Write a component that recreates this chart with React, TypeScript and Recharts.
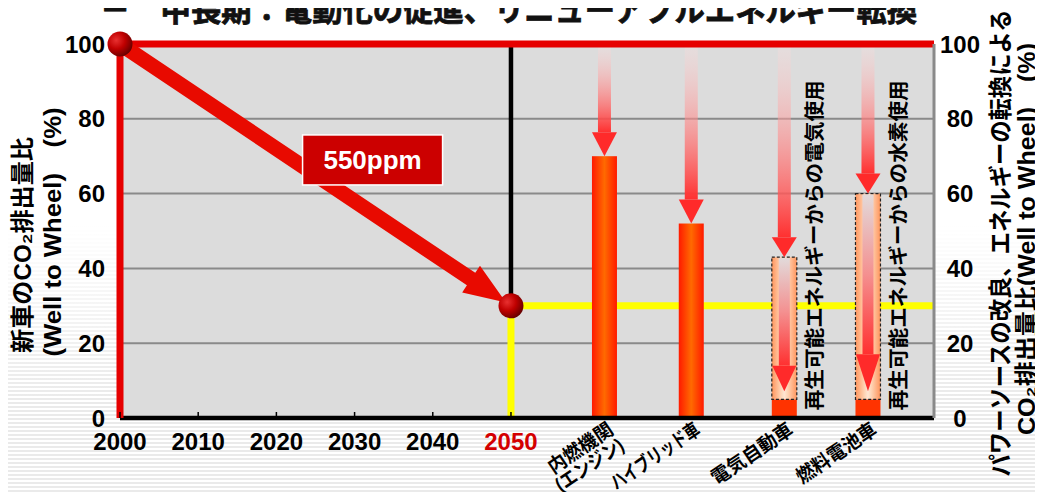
import {
  ComposedChart,
  CartesianGrid,
  XAxis,
  YAxis,
  Bar,
  Area,
  Scatter,
  ReferenceLine,
  ReferenceDot
} from 'recharts';

const FONT = "'Liberation Sans', 'Noto Sans CJK JP', sans-serif";

// Time axis (left part of the chart)
const years = [2000, 2010, 2020, 2030, 2040, 2050];
const highlightYear = 2050;
const axisEnd = 2104.1;

// Reduction path of new-car CO2, 2000 -> 2050
const pathYears = [2000, 2050];
const pathValues = [100, 30];
const pathLabel = '550ppm';
const pathLabelYear = 2032.3;
const pathLabelValue = 69;

// Power sources (right part of the chart)
const vehicles = ['内燃機関\n(エンジン)', 'ハイブリッド車', '電気自動車', '燃料電池車'];
const vehicleSlots = [2062, 2073.1, 2085, 2095.7];
const vehicleCO2 = [70, 52, 5, 5];
const renewableCO2: (number | null)[] = [null, null, 43, 60];
const renewableNotes = ['', '', '再生可能エネルギーからの電気使用', '再生可能エネルギーからの水素使用'];

const yTicks = [0, 20, 40, 60, 80, 100];

const title = '－　中長期：電動化の促進、リニューアブルエネルギー転換';
const leftTitle = ['新車のCO₂排出量比', '(Well to Wheel)　(%)'];
const rightTitle = ['パワーソースの改良、エネルギーの転換による', 'CO₂排出量比(Well to Wheel)　(%)'];

// rendered length (px) of each slanted category label line
const labelLengths = [[74, 78], [103], [94], [92]];

// stacked segments: solid bar, renewable box, drop arrow up to 100
const vehicleRows = vehicles.map((name, i) => {
  const co2 = vehicleCO2[i];
  const renew = renewableCO2[i];
  const top = renew ?? co2;
  return {
    x: vehicleSlots[i],
    name,
    note: renewableNotes[i],
    renewable: renew != null,
    co2,
    renew: renew == null ? 0 : renew - co2,
    drop: 100 - top
  };
});

const pathPoints = pathYears.map((x, i) => ({ x, v: pathValues[i] }));
// 2050 level carried across the power-source section
const targetLine = [highlightYear, axisEnd].map(x => ({ x, t: pathValues[1] }));

function XTick({ x, y, payload }: any) {
  const v = payload.value;
  const vi = vehicleSlots.indexOf(v);
  if (vi >= 0) {
    const lines = vehicles[vi].split('\n');
    return (
      <g transform={`translate(${x + 10},${y + 15}) rotate(-34)`}>
        {lines.map((l, k) => (
          <text key={k} x={0} y={k * 19} textAnchor="end" fontSize={19.5} fontWeight={700} fill="#000"
            fontFamily={FONT} textLength={labelLengths[vi][k]} lengthAdjust="spacingAndGlyphs">
            {l}
          </text>
        ))}
      </g>
    );
  }
  return (
    <g>
      <line x1={x} x2={x} y1={y - 6} y2={y} stroke="#000" strokeWidth={1.5} />
      <text x={x} y={y + 32} textAnchor="middle" fontSize={24} fontWeight={700}
        fontFamily={FONT} fill={v === highlightYear ? '#d40000' : '#000'}>
        {v}
      </text>
    </g>
  );
}

function LeftTick({ x, y, payload }: any) {
  return (
    <text x={x} y={y + 8.5} textAnchor="end" fontSize={24} fontWeight={700} fontFamily={FONT} fill="#000">
      {payload.value}
    </text>
  );
}

function RightTick({ x, y, payload }: any) {
  return (
    <text x={x + 26} y={y + 8.5} textAnchor="middle" fontSize={24} fontWeight={700} fontFamily={FONT} fill="#000">
      {payload.value}
    </text>
  );
}

function SolidBar({ x, y, width, height, payload }: any) {
  if (!height || height <= 0) return null;
  return <rect x={x} y={y} width={width} height={height} fill={payload.renewable ? '#ff3300' : 'url(#solidGrad)'} />;
}

function RenewBox({ x, y, width, height, payload }: any) {
  if (!height || height <= 0) return null;
  const cx = x + width / 2;
  const bottom = y + height;
  const tip = bottom - 8;
  const head = height * 0.18;
  return (
    <g>
      <rect x={x} y={y} width={width} height={height} fill="url(#boxGrad)"
        stroke="#222" strokeWidth={1.2} strokeDasharray="3 2" />
      <rect x={cx - 5.5} y={y + 1} width={11} height={tip - head - y - 1} fill="url(#innerGrad)" />
      <polygon points={`${cx - 12},${tip - head} ${cx + 12},${tip - head} ${cx},${tip}`} fill="#ff2a2a" />
      <text transform={`translate(${cx + 38},${bottom + 11}) rotate(-90)`} fontSize={20} fontWeight={700}
        fontFamily={FONT} fill="#000" textLength={330} lengthAdjust="spacingAndGlyphs">
        {payload.note}
      </text>
    </g>
  );
}

function DropArrow({ x, y, width, height, payload }: any) {
  if (!height || height <= 0) return null;
  const cx = x + width / 2;
  const head = payload.renewable ? 20 : 24;
  const bottom = y + height;
  const top = y + 2;
  return (
    <g>
      <rect x={cx - 6.5} y={top} width={13} height={bottom - head - top} fill="url(#dropGrad)" />
      <polygon points={`${cx - 12.5},${bottom - head} ${cx + 12.5},${bottom - head} ${cx},${bottom}`} fill="#ff2a2a" />
    </g>
  );
}

// thick arrow drawn along the reduction path
function TrendArrow({ x1, y1, x2, y2 }: any) {
  const len = Math.hypot(x2 - x1, y2 - y1);
  const ux = (x2 - x1) / len;
  const uy = (y2 - y1) / len;
  const nx = -uy;
  const ny = ux;
  const shaft = 7.5;
  const wing = 16;
  const tx = x2 - ux * 6;
  const ty = y2 - uy * 6;
  const bx = tx - ux * 42;
  const by = ty - uy * 42;
  const pts = [
    [x1 + nx * shaft, y1 + ny * shaft],
    [bx + nx * shaft, by + ny * shaft],
    [bx + nx * wing, by + ny * wing],
    [tx, ty],
    [bx - nx * wing, by - ny * wing],
    [bx - nx * shaft, by - ny * shaft],
    [x1 - nx * shaft, y1 - ny * shaft]
  ];
  return <polygon points={pts.map(p => p.join(',')).join(' ')} fill="#e80a00" />;
}

function Sphere({ cx, cy }: any) {
  return <circle cx={cx} cy={cy} r={12.5} fill="url(#sphereGrad)" />;
}

function PpmBox({ cx, cy }: any) {
  return (
    <g>
      <rect x={cx - 70} y={cy - 25} width={140} height={50} fill="#cc0000" stroke="#fff" strokeWidth={1.5} />
      <text x={cx} y={cy + 9.5} textAnchor="middle" fontSize={26} fontWeight={700} fontFamily={FONT} fill="#fff">
        {pathLabel}
      </text>
    </g>
  );
}

export default function App() {
  return (
    <div
      style={{
        margin: -8,
        width: 1043,
        height: 500,
        position: 'relative',
        background:
          'linear-gradient(to bottom, #fff 0%, #fff 45%, rgba(255,255,255,0) 80%), repeating-linear-gradient(to bottom, #fff 0px, #fff 2px, #eaeaea 2px, #eaeaea 4px)'
      }}
    >
      <ComposedChart width={1043} height={500} data={vehicleRows} margin={{ top: 44, right: 0, bottom: 0, left: 0 }}>
        <defs>
          <linearGradient id="solidGrad" x1="0" y1="0" x2="1" y2="0">
            <stop offset="0" stopColor="#ff1a00" />
            <stop offset="0.5" stopColor="#ff6a00" />
            <stop offset="1" stopColor="#ff1a00" />
          </linearGradient>
          <linearGradient id="boxGrad" x1="0" y1="0" x2="1" y2="0">
            <stop offset="0" stopColor="#ff955c" />
            <stop offset="0.35" stopColor="#ffd2b2" />
            <stop offset="0.5" stopColor="#ffe6d4" />
            <stop offset="0.65" stopColor="#ffd2b2" />
            <stop offset="1" stopColor="#ff955c" />
          </linearGradient>
          <linearGradient id="innerGrad" x1="0" y1="0" x2="0" y2="1">
            <stop offset="0" stopColor="#e2dada" />
            <stop offset="0.5" stopColor="#f49090" />
            <stop offset="1" stopColor="#ff3030" />
          </linearGradient>
          <linearGradient id="dropGrad" x1="0" y1="0" x2="0" y2="1">
            <stop offset="0" stopColor="#ffe0e0" stopOpacity={0.25} />
            <stop offset="1" stopColor="#ff3030" stopOpacity={1} />
          </linearGradient>
          <radialGradient id="sphereGrad" cx="0.35" cy="0.35" r="0.7">
            <stop offset="0" stopColor="#e83030" />
            <stop offset="0.5" stopColor="#c00000" />
            <stop offset="1" stopColor="#650000" />
          </radialGradient>
        </defs>
        <CartesianGrid vertical={false} stroke="#8a8a8a" strokeWidth={2} fill="#dcdcdc" fillOpacity={1} />
        <XAxis
          dataKey="x"
          type="number"
          domain={[2000, axisEnd]}
          ticks={[...years, ...vehicleSlots]}
          interval={0}
          height={82}
          tickSize={0}
          tickMargin={0}
          tickLine={false}
          axisLine={{ stroke: '#000', strokeWidth: 4.5 }}
          tick={(p: any) => <XTick {...p} />}
        />
        <YAxis
          domain={[0, 100]}
          ticks={yTicks}
          width={120}
          tickSize={0}
          tickMargin={15}
          tickLine={false}
          axisLine={{ stroke: '#e60000', strokeWidth: 7 }}
          tick={(p: any) => <LeftTick {...p} />}
        />
        <YAxis
          yAxisId="r"
          orientation="right"
          domain={[0, 100]}
          ticks={yTicks}
          width={109}
          tickSize={0}
          tickMargin={0}
          tickLine={false}
          axisLine={{ stroke: '#8a8a8a', strokeWidth: 3 }}
          tick={(p: any) => <RightTick {...p} />}
          allowDataOverflow
        />
        <Area
          data={targetLine}
          dataKey="t"
          type="linear"
          stroke="#ffff00"
          strokeWidth={7}
          fill="none"
          dot={false}
          activeDot={false}
          isAnimationActive={false}
        />
        <ReferenceLine
          segment={[{ x: highlightYear, y: 0 }, { x: highlightYear, y: pathValues[1] }]}
          stroke="#ffff00"
          strokeWidth={7}
        />
        <ReferenceLine
          segment={[{ x: highlightYear, y: 100 }, { x: highlightYear, y: pathValues[1] }]}
          stroke="#000"
          strokeWidth={4.5}
        />
        <Bar dataKey="co2" stackId="v" barSize={25} shape={(p: any) => <SolidBar {...p} />} isAnimationActive={false} />
        <Bar dataKey="renew" stackId="v" barSize={25} shape={(p: any) => <RenewBox {...p} />} isAnimationActive={false} />
        <Bar dataKey="drop" stackId="v" barSize={25} shape={(p: any) => <DropArrow {...p} />} isAnimationActive={false} />
        <ReferenceLine y={100} stroke="#e60000" strokeWidth={7} />
        <ReferenceLine
          segment={[{ x: pathYears[0], y: pathValues[0] }, { x: pathYears[1], y: pathValues[1] }]}
          shape={(p: any) => <TrendArrow {...p} />}
        />
        <ReferenceDot x={pathLabelYear} y={pathLabelValue} r={1} shape={(p: any) => <PpmBox {...p} />} />
        <Scatter data={pathPoints} dataKey="v" shape={(p: any) => <Sphere {...p} />} isAnimationActive={false} />
      </ComposedChart>
      <svg width={1043} height={500} style={{ position: 'absolute', left: 0, top: 0, pointerEvents: 'none' }}>
        <text x={100} y={20.5} fontSize={31} fontWeight={700} fontFamily={FONT} fill="#111"
          stroke="#111" strokeWidth={0.8} textLength={817} lengthAdjust="spacingAndGlyphs">
          {title}
        </text>
        <g fontSize={24} fontWeight={700} fontFamily={FONT} fill="#000" textAnchor="middle">
          <text transform="translate(30.5,245) rotate(-90)" textLength={216} lengthAdjust="spacingAndGlyphs">{leftTitle[0]}</text>
          <text transform="translate(60.5,232) rotate(-90)" textLength={249} lengthAdjust="spacingAndGlyphs">{leftTitle[1]}</text>
          <text transform="translate(1009,243) rotate(-90)" textLength={467} lengthAdjust="spacingAndGlyphs">{rightTitle[0]}</text>
          <text transform="translate(1035,239) rotate(-90)" textLength={392} lengthAdjust="spacingAndGlyphs">{rightTitle[1]}</text>
        </g>
      </svg>
    </div>
  );
}
